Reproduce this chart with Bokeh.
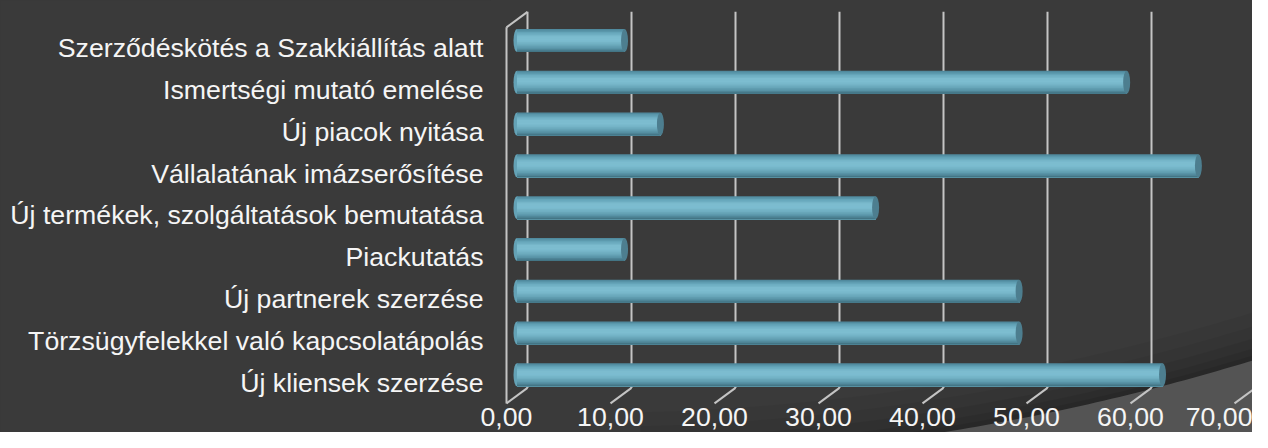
import numpy as np
from bokeh.plotting import figure
from bokeh.models import FixedTicker, Range1d
from bokeh.embed import file_html
from bokeh.resources import INLINE

# ---------------- data ----------------
categories = [
    "Új kliensek szerzése",
    "Törzsügyfelekkel való kapcsolatápolás",
    "Új partnerek szerzése",
    "Piackutatás",
    "Új termékek, szolgáltatások bemutatása",
    "Vállalatának imázserősítése",
    "Új piacok nyitása",
    "Ismertségi mutató emelése",
    "Szerződéskötés a Szakkiállítás alatt",
]
values = [62.07, 48.28, 48.28, 10.34, 34.48, 65.52, 13.79, 58.62, 10.34]
tick_values = [0, 10, 20, 30, 40, 50, 60, 70]
tick_labels = ["0,00", "10,00", "20,00", "30,00", "40,00", "50,00", "60,00", "70,00"]

# ---------------- layout constants ----------------
W, H = 1252, 432
FRAME_L = 490
X0, XS = 506.0, 10.4      # px of value 0 (front plane), px per unit
Y0, YS = 382.0, 41.78     # px of first category (front plane), px per category
DXU = 21.0 / XS           # depth offset in x units
DYU = 15.5 / YS           # depth offset in y units
BAR_H = 23.0 / YS
CAP_W = 7.0 / XS

BG = "#3a3a3a"
GRID = "#c4c4c4"

p = figure(
    width=W, height=H,
    x_range=Range1d((FRAME_L - X0) / XS, (W - X0) / XS),
    y_range=Range1d((Y0 - H) / YS, Y0 / YS),
    output_backend="svg", toolbar_location=None,
    min_border_left=FRAME_L, min_border_right=0,
    min_border_top=0, min_border_bottom=0,
)
p.background_fill_color = BG
p.border_fill_color = BG
p.outline_line_color = None
p.grid.visible = False
p.styles = {"background-color": BG}

# ---------------- decorative background curve ----------------
def to_data(fx, fy):
    return (np.asarray(fx) - X0) / XS, (Y0 - np.asarray(fy)) / YS

cx, cy, R = 580.0, -1834.0, 2294.6
fxs = np.arange(640, W + 11, 8.0)
fys = cy + np.sqrt(R ** 2 - (fxs - cx) ** 2)
for off, a in [(48, 0.04), (34, 0.05), (22, 0.06), (12, 0.07), (5, 0.08)]:
    px_ = np.concatenate([fxs, [W + 20, 640]])
    py_ = np.concatenate([fys - off, [H + 20, H + 20]])
    dx_, dy_ = to_data(px_, py_)
    p.patch(dx_, dy_, fill_color="black", fill_alpha=a, line_color=None)
px_ = np.concatenate([fxs, [W + 20, 640]])
py_ = np.concatenate([fys, [H + 20, H + 20]])
dx_, dy_ = to_data(px_, py_)
p.patch(dx_, dy_, fill_color="#545454", line_color=None)

# ---------------- 3D walls / grid ----------------
n = len(categories)
y_lo, y_hi = -0.5, n - 0.5
tv = np.array(tick_values, dtype=float)
p.segment(tv + DXU, y_lo + DYU, tv + DXU, y_hi + DYU, line_color=GRID, line_width=2)
p.segment(tv, y_lo, tv + DXU, y_lo + DYU, line_color=GRID, line_width=2)
p.segment([0], [y_lo], [0], [y_hi], line_color=GRID, line_width=2)
p.segment([0], [y_hi], [DXU], [y_hi + DYU], line_color=GRID, line_width=2)

# ---------------- cylinders ----------------
vals = np.array(values)
ys = np.arange(n) + DYU / 2
left = np.full(n, DXU / 2)
right = vals + DXU / 2

p.ellipse(x=left, y=ys, width=CAP_W, height=BAR_H, fill_color="#64a2b6", line_color=None)

key_cols = np.array([
    [0x4b, 0x84, 0x97],
    [0x66, 0xa6, 0xba],
    [0x7c, 0xbc, 0xcf],
    [0x7d, 0xbd, 0xd0],
    [0x6e, 0xad, 0xc0],
    [0x5a, 0x96, 0xa9],
    [0x3e, 0x6d, 0x7d],
], dtype=float)
ns = 16
pos = np.linspace(0, 1, len(key_cols))
sh = BAR_H / ns
for k in range(ns):
    t = (k + 0.5) / ns
    rgb = [int(round(np.interp(t, pos, key_cols[:, j]))) for j in range(3)]
    c = "#%02x%02x%02x" % tuple(rgb)
    top = BAR_H / 2 - sh * k          # strip from its top down to the bar bottom
    bottom = -BAR_H / 2
    p.hbar(y=ys + (top + bottom) / 2, left=left, right=right, height=top - bottom,
           fill_color=c, line_color=None)
p.ellipse(x=right, y=ys, width=CAP_W, height=BAR_H, fill_color="#4d7e8f", line_color=None)

# ---------------- axes ----------------
ya = p.yaxis[0]
ya.ticker = FixedTicker(ticks=list(range(n)))
ya.major_label_overrides = {i: c for i, c in enumerate(categories)}
ya.major_label_text_font = "Liberation Sans"
ya.major_label_text_font_size = "26.7px"
ya.major_label_text_color = "#f5f5f5"
ya.major_label_standoff = 1
ya.axis_line_color = None
ya.major_tick_line_color = None
ya.minor_tick_line_color = None

xa = p.xaxis[0]
xa.ticker = FixedTicker(ticks=tick_values)
xa.major_label_overrides = dict(zip(tick_values, tick_labels))
xa.major_label_text_font = "Liberation Sans"
xa.major_label_text_font_size = "26.7px"
xa.major_label_text_color = "#f5f5f5"
xa.major_label_standoff = -31
xa.axis_line_color = None
xa.major_tick_line_color = None
xa.minor_tick_line_color = None

open("out.html", "w").write(file_html(p, INLINE))
